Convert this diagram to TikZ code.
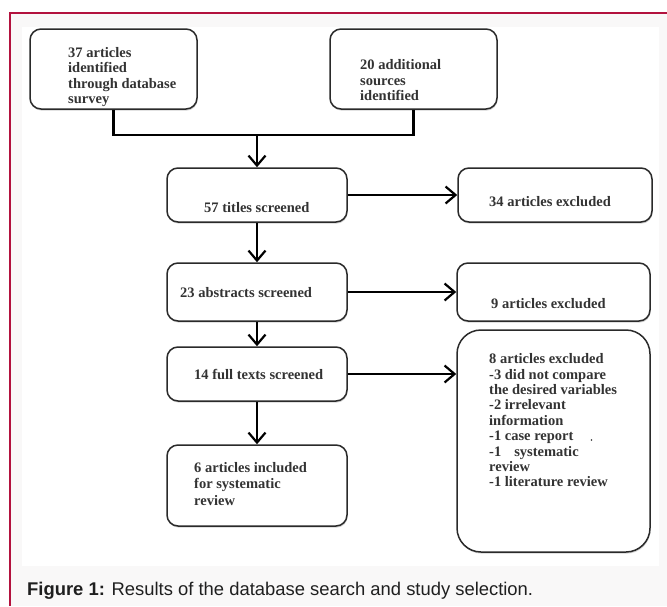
\documentclass[tikz,border=0pt]{standalone}
\usepackage{fontspec}
\setmainfont{Liberation Serif}
\newfontfamily\capfont{Liberation Sans}
\usetikzlibrary{arrows.meta,shadows}
\definecolor{framered}{HTML}{B3123E}
\definecolor{pagebg}{HTML}{F9F8F8}
\definecolor{boxline}{HTML}{2A2A2A}
\definecolor{txt}{HTML}{333333}
\tikzset{
  box/.style={draw=boxline, line width=1.5pt, rounded corners=11pt, fill=white,
    drop shadow={shadow xshift=0.6pt, shadow yshift=-1.6pt, opacity=0.35}},
  bigbox/.style={box, rounded corners=24pt},
  boxtext/.style={inner sep=0pt, text=txt, font=\bfseries\fontsize{14.5}{15.4}\selectfont, align=left},
  conn/.style={line width=2.7pt, black},
  arr/.style={conn, -{Straight Barb[length=10pt, width=17pt, line width=2.2pt]}},
}
\begin{document}
\begin{tikzpicture}[x=1pt,y=-1pt]
\useasboundingbox (0,0) rectangle (667,606);
\fill[white] (0,0) rectangle (667,606);
\fill[pagebg] (10,13) rectangle (667,606);
\fill[white] (22,27) rectangle (659,566);
\draw[framered, line width=1.4pt] (10,606) -- (10,13) -- (667,13);

% boxes
\node[box, minimum width=167pt, minimum height=80pt] (A) at (113.5,69) {};
\node[box, minimum width=167pt, minimum height=80pt] (B) at (413.5,69) {};
\node[box, minimum width=180pt, minimum height=54pt] (C) at (257,195) {};
\node[box, minimum width=194pt, minimum height=54pt] (D) at (555,195) {};
\node[box, minimum width=180pt, minimum height=58pt] (E) at (257,292) {};
\node[box, minimum width=193pt, minimum height=58pt] (F) at (553.5,292) {};
\node[box, minimum width=180pt, minimum height=54pt] (G) at (257,374) {};
\node[bigbox, minimum width=193pt, minimum height=222pt] (H) at (553.5,441) {};
\node[box, minimum width=180pt, minimum height=81pt] (I) at (257,485.5) {};

% texts
\node[boxtext, anchor=north west] (tA) at (68,47) {37 articles\\identified\\through database\\survey};
\node[boxtext, anchor=north west] (tB) at (360,59.5) {20 additional\\sources\\identified};
\node[boxtext, anchor=base west] (tC) at (204,212.5) {57 titles screened};
\node[boxtext, anchor=base west] (tD) at (489,206.5) {34 articles excluded};
\node[boxtext, anchor=base west] (tE) at (180,297.5) {23 abstracts screened};
\node[boxtext, anchor=base west] (tF) at (491,308.5) {9 articles excluded};
\node[boxtext, anchor=base west] (tG) at (194,379.5) {14 full texts screened};
\node[boxtext, anchor=north west] (tH) at (489,353.5) {8 articles excluded\\-3 did not compare\\the desired variables\\-2 irrelevant\\information\\-1 case report\\-1\hspace{13pt}systematic\\review\\-1 literature review};
\node[boxtext, anchor=north west] (tI) at (194,462.5) {6 articles included\\for systematic\\[1.5pt]review};
\fill[txt] (591.5,440) circle (0.9);

% connectors
\coordinate (j) at (257,135);
\draw[conn] (A.south) |- (j);
\draw[conn] (B.south) |- (j);
\draw[arr] (j) -- (C.north);
\draw[arr] (C.east) -- (D.west);
\draw[arr] (C.south) -- (E.north);
\draw[arr] (E.east) -- (F.west);
\draw[arr] (E.south) -- (G.north);
\draw[arr] (G.east) -- (G.east -| H.west);
\draw[arr] (G.south) -- (I.north);

% caption
\node[anchor=base west, inner sep=0pt, font=\capfont\fontsize{18.4}{21}\selectfont, text=black!88] (cap) at (27,595) {\textbf{Figure 1:} Results of the database search and study selection.};
\end{tikzpicture}
\end{document}
